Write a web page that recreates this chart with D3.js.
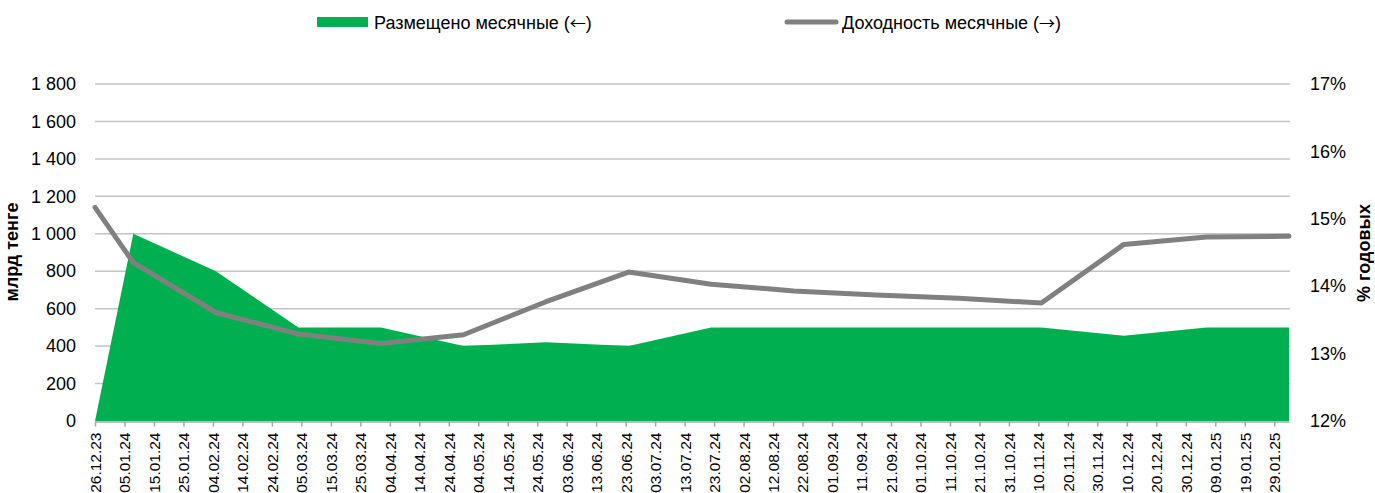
<!DOCTYPE html>
<html>
<head>
<meta charset="utf-8">
<script src="https://cdn.jsdelivr.net/npm/d3@7"></script>
<style>
  body { margin: 0; background: #fff; }
  svg text { font-family: "Liberation Sans", Arial, sans-serif; fill: #000; }
</style>
</head>
<body>
<div class="display"></div>
<script>
// Placed volume (left axis) vs monthly yield (right axis)

const WIDTH = 1375;
const HEIGHT = 493;
const X0 = 95, X1 = 1289, Y0 = 421, Y1 = 84;

const dates = ['26.12.2023', '08.01.2024', '05.02.2024', '04.03.2024', '01.04.2024', '29.04.2024',
  '27.05.2024', '24.06.2024', '22.07.2024', '19.08.2024', '16.09.2024', '14.10.2024',
  '11.11.2024', '09.12.2024', '06.01.2025', '03.02.2025'];
const placed = [0, 1000, 800, 500, 500, 400, 420, 400, 500, 500, 500, 500, 500, 455, 500, 500];
const yields = [15.17, 14.35, 13.61, 13.29, 13.15, 13.28, 13.77, 14.21, 14.03, 13.93, 13.87, 13.82,
  13.75, 14.62, 14.73, 14.74];

const tickLabels = ['26.12.23', '05.01.24', '15.01.24', '25.01.24', '04.02.24', '14.02.24', '24.02.24',
  '05.03.24', '15.03.24', '25.03.24', '04.04.24', '14.04.24', '24.04.24', '04.05.24', '14.05.24',
  '24.05.24', '03.06.24', '13.06.24', '23.06.24', '03.07.24', '13.07.24', '23.07.24', '02.08.24',
  '12.08.24', '22.08.24', '01.09.24', '11.09.24', '21.09.24', '01.10.24', '11.10.24', '21.10.24',
  '31.10.24', '10.11.24', '20.11.24', '30.11.24', '10.12.24', '20.12.24', '30.12.24', '09.01.25',
  '19.01.25', '29.01.25'];
const leftTicks = [0, 200, 400, 600, 800, 1000, 1200, 1400, 1600, 1800];
const rightTicks = [12, 13, 14, 15, 16, 17];

const parseDate = d3.timeParse('%d.%m.%Y');
const parseTick = d3.timeParse('%d.%m.%y');
const data = dates.map((d, i) => ({ date: parseDate(d), placed: placed[i], yld: yields[i] }));

const ru = d3.formatLocale({ decimal: ',', thousands: '\u00a0', grouping: [3], currency: ['', ''] });

const svg = d3.select('.display')
  .append('svg')
  .attr('width', WIDTH)
  .attr('height', HEIGHT);

const x = d3.scaleTime()
  .domain(d3.extent(data, d => d.date))
  .range([X0, X1]);
const yLeft = d3.scaleLinear().domain([0, 1800]).range([Y0, Y1]);
const yRight = d3.scaleLinear().domain([12, 17]).range([Y0, Y1]);

// gridlines
svg.append('g')
  .selectAll('line')
  .data(leftTicks.filter(d => d > 0))
  .enter()
  .append('line')
  .attr('x1', X0)
  .attr('x2', X1 + 1)
  .attr('y1', d => yLeft(d))
  .attr('y2', d => yLeft(d))
  .attr('stroke', '#c4c4c4')
  .attr('stroke-width', 1.5);

// area
svg.append('path')
  .datum(data)
  .attr('fill', '#00b050')
  .attr('d', d3.area()
    .x(d => x(d.date))
    .y0(yLeft(0))
    .y1(d => yLeft(d.placed)));

// x axis
const xAxis = svg.append('g')
  .attr('transform', `translate(0,${Y0 + 0.5})`)
  .call(d3.axisBottom(x)
    .tickValues(tickLabels.map(parseTick))
    .tickSize(5)
    .tickSizeOuter(0)
    .tickFormat(d3.timeFormat('%d.%m.%y')));
xAxis.select('.domain').attr('stroke', '#a6a6a6').attr('stroke-width', 1.5);
xAxis.selectAll('.tick line').attr('stroke', '#a6a6a6').attr('stroke-width', 1.5);
xAxis.selectAll('.tick text')
  .attr('transform', 'rotate(-90)')
  .attr('text-anchor', 'end')
  .attr('x', -11)
  .attr('y', 0)
  .attr('dy', '0.35em')
  .style('font-size', '15.5px');

// left axis
const leftAxis = svg.append('g')
  .attr('transform', `translate(${X0},0)`)
  .call(d3.axisLeft(yLeft)
    .tickValues(leftTicks)
    .tickSize(0)
    .tickPadding(19)
    .tickFormat(ru.format(',')));
leftAxis.select('.domain').remove();
leftAxis.selectAll('text').style('font-size', '18px');

// right axis
const rightAxis = svg.append('g')
  .attr('transform', `translate(${X1},0)`)
  .call(d3.axisRight(yRight)
    .tickValues(rightTicks)
    .tickSize(0)
    .tickPadding(21)
    .tickFormat(d => d + '%'));
rightAxis.select('.domain').remove();
rightAxis.selectAll('text').style('font-size', '18px');

// yield line
svg.append('path')
  .datum(data)
  .attr('fill', 'none')
  .attr('stroke', '#808080')
  .attr('stroke-width', 5)
  .attr('stroke-linejoin', 'round')
  .attr('stroke-linecap', 'round')
  .attr('d', d3.line()
    .x(d => x(d.date))
    .y(d => yRight(d.yld)));

// axis titles
svg.append('text')
  .attr('transform', 'translate(18,252) rotate(-90)')
  .attr('text-anchor', 'middle')
  .style('font-size', '18px')
  .style('font-weight', 'bold')
  .text('млрд тенге');
svg.append('text')
  .attr('transform', 'translate(1370,253) rotate(-90)')
  .attr('text-anchor', 'middle')
  .style('font-size', '18px')
  .style('font-weight', 'bold')
  .text('% годовых');

// legend
function legendLabel(g, xPos, label, arrow) {
  const t = g.append('text')
    .attr('x', xPos).attr('y', 29)
    .style('font-size', '18px');
  t.append('tspan').text(label + ' (');
  t.append('tspan')
    .style('font-family', '"Noto Sans CJK JP", "DejaVu Sans", sans-serif')
    .style('font-size', '16px')
    .text(arrow);
  t.append('tspan').text(')');
}

const legend = svg.append('g');
legend.append('rect')
  .attr('x', 317).attr('y', 17)
  .attr('width', 51).attr('height', 10)
  .attr('fill', '#00b050');
legendLabel(legend, 374, 'Размещено месячные', '←');
legend.append('line')
  .attr('x1', 787).attr('x2', 836)
  .attr('y1', 22).attr('y2', 22)
  .attr('stroke', '#808080')
  .attr('stroke-width', 5)
  .attr('stroke-linecap', 'round');
legendLabel(legend, 842, 'Доходность месячные', '→');
</script>
</body>
</html>
